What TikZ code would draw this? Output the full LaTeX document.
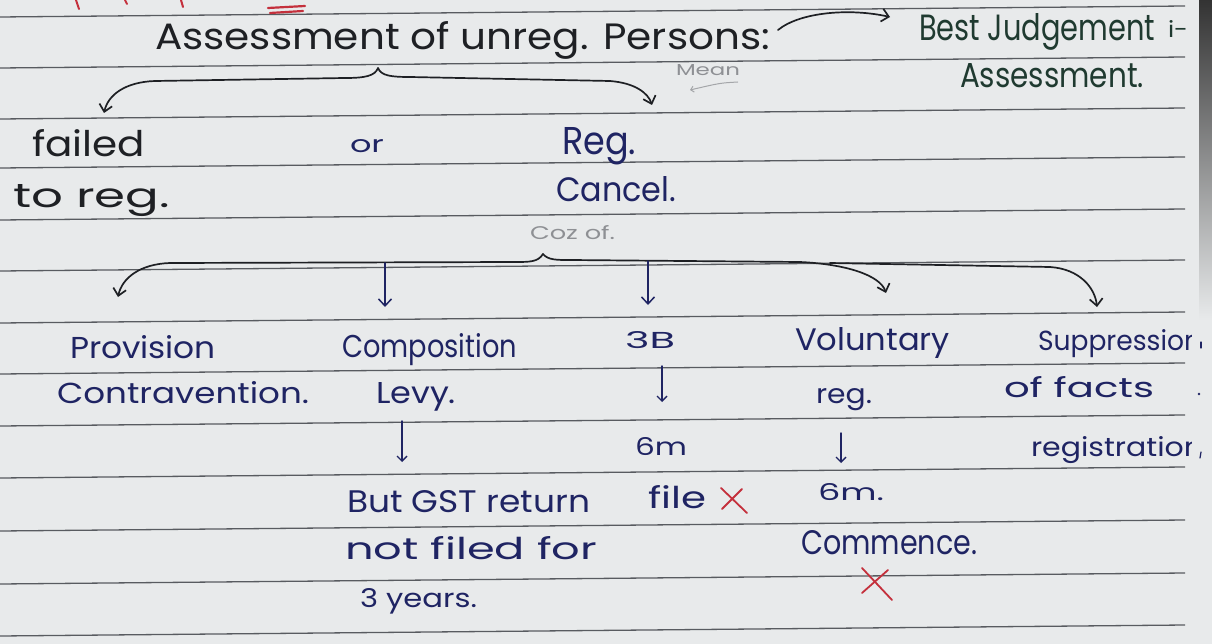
\documentclass[tikz,border=0pt]{standalone}
\usepackage{fontspec}
\setmainfont{Poppins}
\usetikzlibrary{arrows.meta}
\definecolor{paper}{HTML}{E8EAEB}
\definecolor{ruled}{HTML}{585B60}
\definecolor{inkk}{HTML}{1E2024}
\definecolor{inkg}{HTML}{1F3A30}
\definecolor{inkb}{HTML}{1F2463}
\definecolor{pencil}{HTML}{8E9094}
\definecolor{redink}{HTML}{C4303C}
\newcommand\hwt[3]{\resizebox{#1pt}{#2pt}{#3}}
\begin{document}
\begin{tikzpicture}[x=1pt,y=-1pt,
  hw/.style={anchor=base west, inner sep=0pt, outer sep=0pt},
  ruleline/.style={ruled, line width=1.3pt},
  pen/.style={line width=1.7pt, line cap=round, line join=round},
  hdarrow/.style={pen, -{Straight Barb[length=7pt,width=13pt]}},
  smarrow/.style={inkb, line width=1.4pt, line cap=round, -{Straight Barb[length=5pt,width=10pt]}},
  redx/.style={redink, line width=1.8pt, line cap=round}]
\useasboundingbox (0,0) rectangle (1212,644);
\fill[paper] (0,0) rectangle (1212,644);
\shade[top color=black!80, bottom color=paper] (1199,0) rectangle (1212,320);
% ruled lines
\foreach \yy in {17,68,119,168,220,271,323,374,426,478,531,584,636}
  \draw[ruleline] (0,\yy) -- (1185,\yy-11);
% red marks at top
\draw[redx, line width=2pt] (76,0) -- (79,9);
\draw[redx, line width=2pt] (125,0) -- (127,4);
\draw[redx, line width=2pt] (181,0) -- (183,7);
\draw[redx, line width=2.2pt] (268,8) -- (305,6);
\draw[redx, line width=2.2pt] (270,13) -- (303,11);

% heading
\node[hw, text=inkk] (head) at (155,50) {\hwt{615}{28}{Assessment of unreg. Persons:}};
\node[hw, text=inkg] (bestj) at (919,41) {\hwt{236}{27}{Best Judgement}};
\node[hw, text=inkg] (besti) at (1168,38) {\hwt{20}{17}{i-}};
\node[hw, text=inkg] (bestas) at (960,88) {\hwt{184}{24}{Assessment.}};
\node[hw, text=pencil] (mean) at (676,76) {\hwt{64}{11}{Mean}};
\coordinate (a0) at (778,30);
\coordinate (a1) at (890,17);
\draw[hdarrow, inkk] (a0) .. controls (800,12) and (850,8) .. (a1);
\coordinate (m0) at (738,82);
\coordinate (m1) at (690,90);
\draw[pencil!80, line width=1pt, -{Straight Barb[length=3pt,width=6pt]}] (m0) .. controls (720,83) .. (m1);

% first brace
\coordinate (c1) at (378,68);
\coordinate (t1L) at (104,113);
\coordinate (t1R) at (652,105);
\draw[hdarrow, inkk] (c1) .. controls (375,76) and (365,78) .. (345,78) -- (155,81) .. controls (125,82) and (108,95) .. (t1L);
\draw[hdarrow, inkk] (c1) .. controls (381,76) and (392,77) .. (410,77) -- (610,81) .. controls (635,83) and (648,93) .. (t1R);

% second row
\node[hw, text=inkk] (failed) at (32,157) {\hwt{113}{27}{failed}};
\node[hw, text=inkk] (toreg) at (13,208) {\hwt{157}{23}{to reg.}};
\node[hw, text=inkb] (orw) at (350,153) {\hwt{34}{13}{or}};
\node[hw, text=inkb] (reg) at (562,155) {\hwt{74}{27}{Reg.}};
\node[hw, text=inkb] (cancel) at (556,202) {\hwt{120}{25}{Cancel.}};
\node[hw, text=pencil] (coz) at (530,240) {\hwt{85}{14}{Coz of.}};

% second brace
\coordinate (c2) at (543,254);
\coordinate (t2a) at (118,297);
\coordinate (d1a) at (385,263);
\coordinate (d1b) at (385,307);
\coordinate (d2a) at (648,261);
\coordinate (d2b) at (648,305);
\coordinate (t2d) at (886,293);
\coordinate (br2) at (830,263);
\coordinate (t2e) at (1097,307);
\draw[hdarrow, inkk] (c2) .. controls (538,262) and (530,262) .. (515,262) -- (170,263) .. controls (140,264) and (122,278) .. (t2a);
\draw[hdarrow, inkk] (c2) .. controls (548,260) and (556,260) .. (570,260) -- (800,262) .. controls (845,264) and (880,275) .. (t2d);
\draw[hdarrow, inkk] (br2) -- (1050,267) .. controls (1080,269) and (1095,288) .. (t2e);
\draw[hdarrow, inkb, line width=1.5pt] (d1a) -- (d1b);
\draw[hdarrow, inkb, line width=1.5pt] (d2a) -- (d2b);

% bottom columns
\node[hw, text=inkb] (prov) at (70,358) {\hwt{146}{23}{Provision}};
\node[hw, text=inkb] (contra) at (57,403) {\hwt{252}{22}{Contravention.}};

\node[hw, text=inkb] (compo) at (342,357) {\hwt{175}{24}{Composition}};
\node[hw, text=inkb] (levy) at (376,403) {\hwt{80}{21}{Levy.}};
\coordinate (l1) at (402,421);
\coordinate (l2) at (402,462);
\draw[smarrow] (l1) -- (l2);
\node[hw, text=inkb] (butgst) at (347,512) {\hwt{243}{22}{But GST return}};
\node[hw, text=inkb] (notfiled) at (345,559) {\hwt{252}{23}{not filed for}};
\node[hw, text=inkb] (years) at (360,607) {\hwt{117}{19}{3 years.}};

\node[hw, text=inkb] (threeb) at (625,348) {\hwt{50}{17}{3B}};
\coordinate (b1) at (662,366);
\coordinate (b2) at (662,402);
\draw[smarrow] (b1) -- (b2);
\node[hw, text=inkb] (sixm) at (635,455) {\hwt{52}{18}{6m}};
\node[hw, text=inkb] (file) at (648,508) {\hwt{58}{23}{file}};
\draw[redx] (721,488) -- (747,513);
\draw[redx] (742,489) -- (722,509);

\node[hw, text=inkb] (volun) at (795,350) {\hwt{155}{23}{Voluntary}};
\node[hw, text=inkb] (vreg) at (816,403) {\hwt{56}{15}{reg.}};
\coordinate (v1) at (841,433);
\coordinate (v2) at (841,463);
\draw[smarrow] (v1) -- (v2);
\node[hw, text=inkb] (sixmb) at (818,500) {\hwt{66}{17}{6m.}};
\node[hw, text=inkb] (commence) at (801,554) {\hwt{176}{24}{Commence.}};
\draw[redx] (862,568) -- (892,600);
\draw[redx] (888,570) -- (862,593);

\begin{scope}
\clip (0,0) rectangle (1191,644);
\node[hw, text=inkb] (supp) at (1038,350) {\hwt{163}{21}{Suppression}};
\node[hw, text=inkb] (facts) at (1004,397) {\hwt{150}{21}{of facts}};
\node[hw, text=inkb] (registr) at (1031,456) {\hwt{172}{20}{registration}};
\end{scope}
\draw[inkb, line width=1.2pt, line cap=round] (1201,342) -- (1201,348);
\fill[inkb] (1199,394) circle (1.3);
\draw[inkb, line width=1.2pt, line cap=round] (1201,452) -- (1200,458);
\end{tikzpicture}
\end{document}
